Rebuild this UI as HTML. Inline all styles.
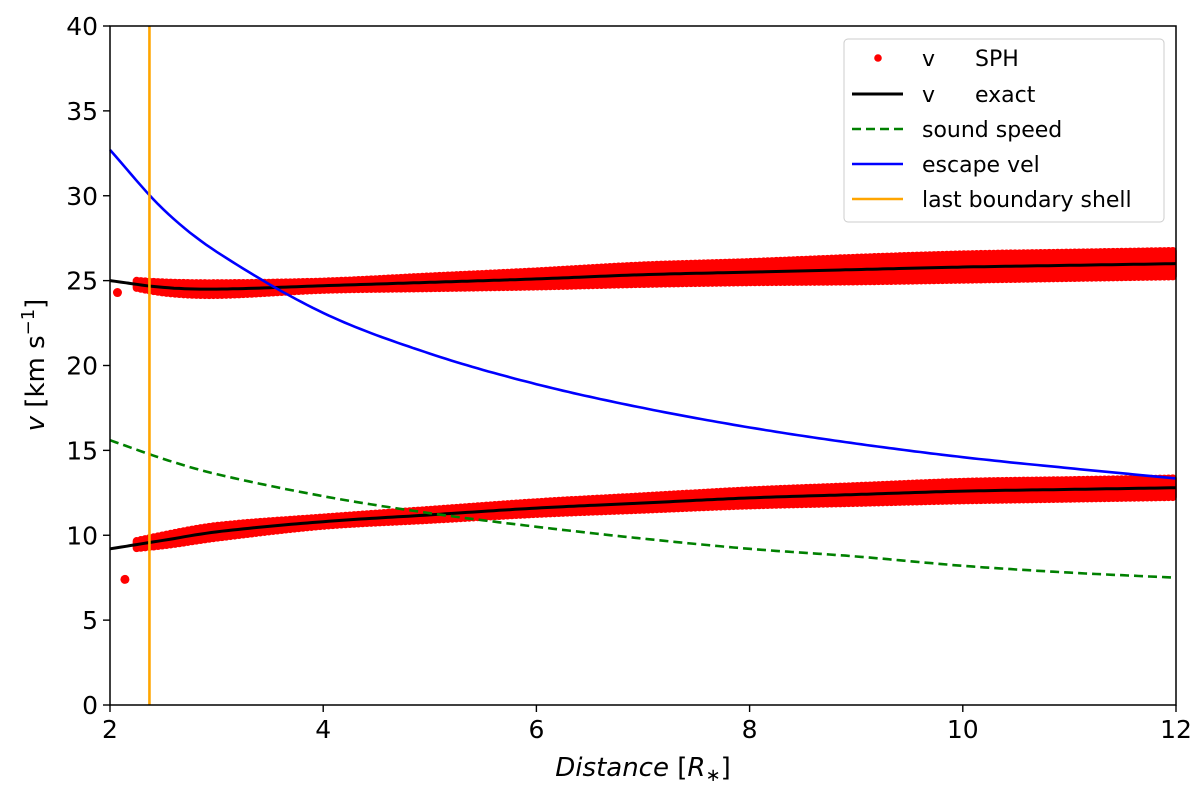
<!DOCTYPE html>
<html><head><meta charset="utf-8"><style>
body{margin:0;background:#fff;}
svg text{font-family:"DejaVu Sans","Liberation Sans",sans-serif;}
</style></head><body>
<svg id="chart" width="1200" height="789" xmlns="http://www.w3.org/2000/svg">
<g id="plot"></g>
<g id="axes"></g>
</svg>
<script>
const xs = [2,2.5,3,4,5,6,7,8,9,10,11,12];
const exactUpper = [25.0,24.6,24.5,24.7,24.9,25.1,25.35,25.5,25.65,25.8,25.9,26.0];
const exactLower = [9.2,9.7,10.2,10.8,11.2,11.6,11.9,12.2,12.4,12.6,12.7,12.8];
const escapeVel = [32.7,29.2,26.7,23.1,20.7,18.9,17.5,16.35,15.4,14.6,13.95,13.35];
const soundSpeed = [15.6,14.5,13.6,12.3,11.3,10.5,9.8,9.2,8.75,8.2,7.8,7.5];
const spreadUpper = [0.1,0.3,0.35,0.25,0.35,0.45,0.55,0.6,0.7,0.75,0.75,0.75];
const spreadLower = [0.1,0.3,0.35,0.25,0.3,0.35,0.4,0.45,0.5,0.55,0.55,0.55];
const outliers = [[2.07,24.3],[2.14,7.4]];
const boundaryX = 2.37;
const xTicks = [2,4,6,8,10,12];
const yTicks = [0,5,10,15,20,25,30,35,40];

const L=110,R=1176,T=26,B=705;
const sx=v=>L+(v-2)/10*(R-L);
const sy=v=>B-v/40*(B-T);
const NS='http://www.w3.org/2000/svg';
const plot=document.getElementById('plot'), axes=document.getElementById('axes');
function mk(tag,attrs,parent){const e=document.createElementNS(NS,tag);for(const k in attrs)e.setAttribute(k,attrs[k]);parent.appendChild(e);return e;}
function interp(arr,x){
  let i=0;while(i<xs.length-2&&x>xs[i+1])i++;
  const x0=xs[i],x1=xs[i+1],h=x1-x0,t=(x-x0)/h;
  const slope=(j)=>{const a=Math.max(0,j-1),b=Math.min(xs.length-1,j+1);return (arr[b]-arr[a])/(xs[b]-xs[a]);};
  const m0=slope(i)*h,m1=slope(i+1)*h;
  const t2=t*t,t3=t2*t;
  return (2*t3-3*t2+1)*arr[i]+(t3-2*t2+t)*m0+(-2*t3+3*t2)*arr[i+1]+(t3-t2)*m1;
}
function smoothPath(arr){let d='';for(let x=2;x<=12.0001;x+=0.05){const y=interp(arr,x);d+=(d?'L':'M')+sx(x).toFixed(1)+','+sy(y).toFixed(1);}return d;}

const dots=mk('g',{},plot);


[[exactUpper,spreadUpper],[exactLower,spreadLower]].forEach(([c,s])=>{
  for(let x=2.25;x<=12;x+=0.04){
    const m=interp(c,x), w=interp(s,x);
    const y1=sy(m+w), y2=sy(m-w);
    mk('rect',{x:sx(x)-4,y:y1-4,width:8,height:Math.max(8,y2-y1+8),rx:4,fill:'#ff0000'},dots);
  }
});
outliers.forEach(p=>{const c=mk('circle',{cx:sx(p[0]),cy:sy(p[1]),r:4.5,fill:'#ff0000'},dots);

});

const eu=mk('path',{d:smoothPath(exactUpper),fill:'none',stroke:'#000',"stroke-width":3},plot);

const el=mk('path',{d:smoothPath(exactLower),fill:'none',stroke:'#000',"stroke-width":3},plot);

const ss=mk('path',{d:smoothPath(soundSpeed),fill:'none',stroke:'#008000',"stroke-width":2.6,"stroke-dasharray":"9,5"},plot);

const ev=mk('path',{d:smoothPath(escapeVel),fill:'none',stroke:'#0000ff',"stroke-width":2.6},plot);

const bl=mk('line',{x1:sx(boundaryX),x2:sx(boundaryX),y1:T,y2:B,stroke:'#ffa500',"stroke-width":2.6},plot);


mk('rect',{x:L,y:T,width:R-L,height:B-T,fill:'none',stroke:'#000',"stroke-width":1.5},axes);
xTicks.forEach(t=>{mk('line',{x1:sx(t),x2:sx(t),y1:B,y2:B+7,stroke:'#000',"stroke-width":1.4},axes);
 const tx=mk('text',{x:sx(t),y:B+33,"font-size":25,"text-anchor":"middle"},axes);tx.textContent=t;
 });
yTicks.forEach(t=>{mk('line',{x1:L-7,x2:L,y1:sy(t),y2:sy(t),stroke:'#000',"stroke-width":1.4},axes);
 const tx=mk('text',{x:L-12,y:sy(t)+9,"font-size":25,"text-anchor":"end"},axes);tx.textContent=t;
 });
</script>
<svg width="1200" height="789" style="position:absolute;left:0;top:0" xmlns="http://www.w3.org/2000/svg">
<text x="643" y="776" font-size="26" text-anchor="middle" font-family="DejaVu Sans,sans-serif"><tspan font-style="italic">Distance</tspan> [<tspan font-style="italic">R</tspan><tspan font-size="18" dy="5">∗</tspan><tspan dy="-5">]</tspan></text>
<text transform="translate(44,365) rotate(-90)" font-size="26" text-anchor="middle" font-family="DejaVu Sans,sans-serif"><tspan font-style="italic">v</tspan> [km s<tspan font-size="18" dy="-10">−1</tspan><tspan dy="10">]</tspan></text>
<g font-family="DejaVu Sans,sans-serif" font-size="22">
<rect x="844" y="39" width="320" height="183" rx="4" fill="#fff" fill-opacity="0.8" stroke="#ccc"/>
<circle cx="878" cy="58" r="3.8" fill="#ff0000"/><text x="922" y="66">v</text><text x="975" y="66">SPH</text>
<line x1="852" x2="903" y1="94" y2="94" stroke="#000" stroke-width="3"/><text x="922" y="102">v</text><text x="975" y="102">exact</text>
<line x1="852" x2="903" y1="129" y2="129" stroke="#008000" stroke-width="2.6" stroke-dasharray="9,5"/><text x="922" y="137">sound speed</text>
<line x1="852" x2="903" y1="164" y2="164" stroke="#0000ff" stroke-width="2.6"/><text x="922" y="172">escape vel</text>
<line x1="852" x2="903" y1="199" y2="199" stroke="#ffa500" stroke-width="2.6"/><text x="922" y="207">last boundary shell</text>
</g>
</svg>
</body></html>
